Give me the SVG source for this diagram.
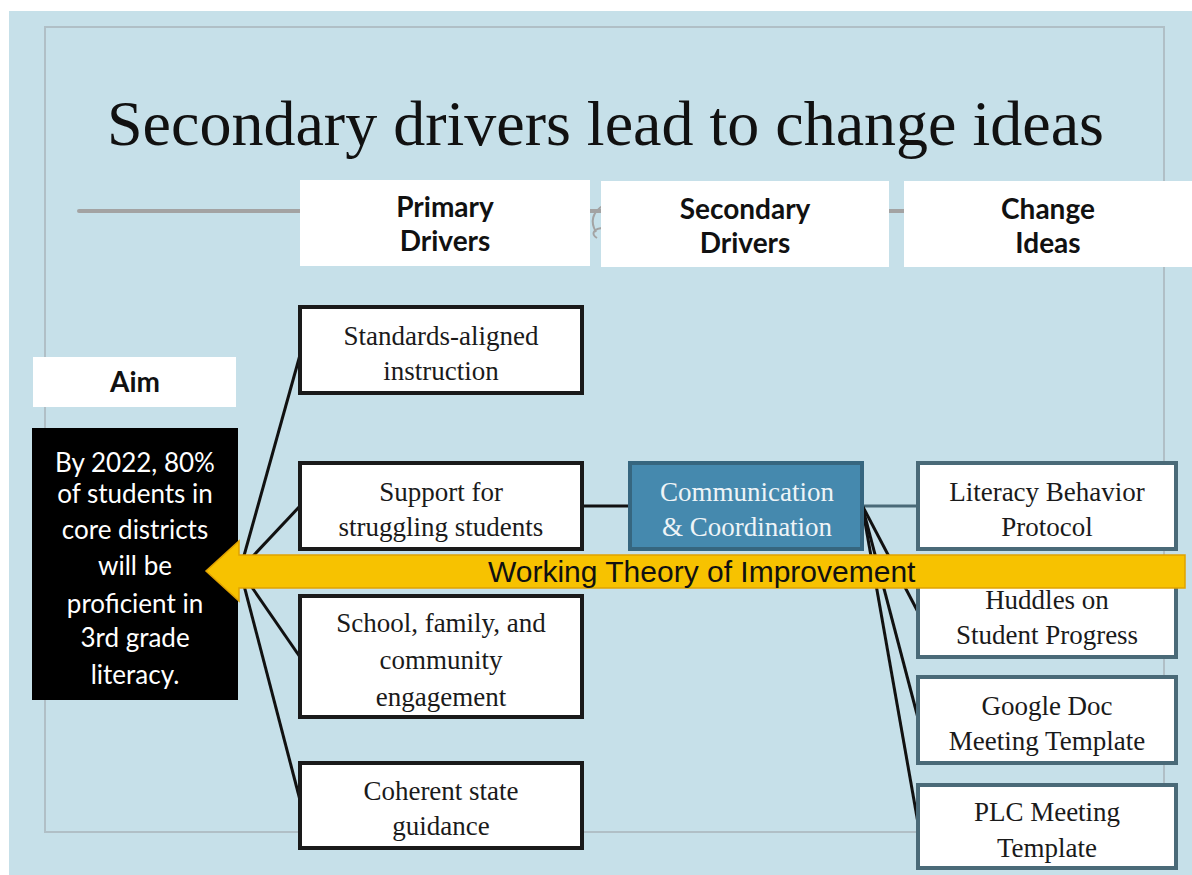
<svg xmlns="http://www.w3.org/2000/svg" width="1192" height="875" viewBox="0 0 1192 875">
<style>
.hdr{font-family:Lato,"Open Sans",sans-serif;font-weight:bold;font-size:28px;fill:#111;text-anchor:middle}
.lbl{font-family:"Liberation Serif",serif;font-size:27px;fill:#1a1a1a;text-anchor:middle}
.aim{font-family:Lato,"Open Sans",sans-serif;font-size:26px;fill:#fff;text-anchor:middle}
.pd{fill:#fff;stroke:#1a1a1a;stroke-width:4}
.ci{fill:#fff;stroke:#4a6a78;stroke-width:4}
.hbox{fill:#fff}
.conn{stroke:#111;stroke-width:3;fill:none}
</style>
<rect x="0" y="0" width="1192" height="875" fill="#ffffff"/>
<rect x="9" y="11" width="1183" height="864" fill="#c6e0e9"/>
<rect x="45" y="27" width="1119" height="805" fill="none" stroke="#b0bfc6" stroke-width="2"/>
<text x="107" y="145" font-family="'Liberation Serif',serif" font-size="64" fill="#111">Secondary drivers lead to change ideas</text>
<line x1="79" y1="211" x2="1000" y2="211" stroke="#a3a3a3" stroke-width="4" stroke-linecap="round"/>
<path d="M604 205 C592 212 590 222 596 232 M604 228 C594 228 590 234 597 238" stroke="#a3a3a3" stroke-width="2" fill="none"/>

<g id="hdr-primary"><rect class="hbox" x="300" y="180" width="290" height="86"/><text class="hdr" x="445" y="217">Primary</text><text class="hdr" x="445" y="251">Drivers</text></g>
<g id="hdr-secondary"><rect class="hbox" x="601" y="181" width="288" height="86"/><text class="hdr" x="745" y="219">Secondary</text><text class="hdr" x="745" y="253">Drivers</text></g>
<g id="hdr-change"><rect class="hbox" x="904" y="181" width="288" height="86"/><text class="hdr" x="1048" y="219">Change</text><text class="hdr" x="1048" y="253">Ideas</text></g>

<g id="aim-label"><rect class="hbox" x="33" y="357" width="203" height="50"/><text class="hdr" x="135" y="392" font-size="26">Aim</text></g>

<g id="connectors">
<line class="conn" x1="240" y1="570" x2="300" y2="355"/>
<line class="conn" x1="240" y1="570" x2="300" y2="506"/>
<line class="conn" x1="240" y1="570" x2="300" y2="657"/>
<line class="conn" x1="240" y1="570" x2="300" y2="800"/>
<line class="conn" x1="582" y1="506" x2="630" y2="506"/>
<line x1="862" y1="506" x2="918" y2="506" stroke="#4a6a78" stroke-width="3"/>
<line class="conn" x1="862" y1="505" x2="918" y2="612"/>
<line class="conn" x1="862" y1="505" x2="918" y2="718"/>
<line class="conn" x1="862" y1="505" x2="918" y2="823"/>
</g>

<g id="aim"><rect x="32" y="428" width="206" height="272" fill="#000"/>
<text class="aim" x="135" y="472">By 2022, 80%</text>
<text class="aim" x="135" y="503">of students in</text>
<text class="aim" x="135" y="539">core districts</text>
<text class="aim" x="135" y="575">will be</text>
<text class="aim" x="135" y="613">proficient in</text>
<text class="aim" x="135" y="647">3rd grade</text>
<text class="aim" x="135" y="684">literacy.</text>
</g>

<g id="pd1"><rect class="pd" x="300" y="307" width="282" height="86"/><text class="lbl" x="441" y="345">Standards-aligned</text><text class="lbl" x="441" y="380">instruction</text></g>
<g id="pd2"><rect class="pd" x="300" y="463" width="282" height="86"/><text class="lbl" x="441" y="501">Support for</text><text class="lbl" x="441" y="536">struggling students</text></g>
<g id="pd3"><rect class="pd" x="300" y="596" width="282" height="121"/><text class="lbl" x="441" y="632">School, family, and</text><text class="lbl" x="441" y="669">community</text><text class="lbl" x="441" y="706">engagement</text></g>
<g id="pd4"><rect class="pd" x="300" y="763" width="282" height="85"/><text class="lbl" x="441" y="800">Coherent state</text><text class="lbl" x="441" y="835">guidance</text></g>

<g id="sd1"><rect x="630" y="463" width="232" height="86" fill="#4589ae" stroke="#36667f" stroke-width="4"/><text class="lbl" x="747" y="501" style="fill:#eef4f7">Communication</text><text class="lbl" x="747" y="536" style="fill:#eef4f7">&amp; Coordination</text></g>

<g id="ci1"><rect class="ci" x="918" y="463" width="258" height="86"/><text class="lbl" x="1047" y="501">Literacy Behavior</text><text class="lbl" x="1047" y="536">Protocol</text></g>
<g id="ci2"><rect class="ci" x="918" y="570" width="258" height="87"/><text class="lbl" x="1047" y="609">Huddles on</text><text class="lbl" x="1047" y="644">Student Progress</text></g>
<g id="ci3"><rect class="ci" x="918" y="677" width="258" height="86"/><text class="lbl" x="1047" y="715">Google Doc</text><text class="lbl" x="1047" y="750">Meeting Template</text></g>
<g id="ci4"><rect class="ci" x="918" y="785" width="258" height="83"/><text class="lbl" x="1047" y="821">PLC Meeting</text><text class="lbl" x="1047" y="857">Template</text></g>

<g id="arrow"><path d="M1185 555 L239 555 L239 541 L206 571 L239 601 L239 588 L1185 588 Z" fill="#f7c200" stroke="#e0a200" stroke-width="1.5"/>
<text x="488" y="582" font-family="'Liberation Sans',Arial,sans-serif" font-size="30" fill="#111">Working Theory of Improvement</text></g>
</svg>
